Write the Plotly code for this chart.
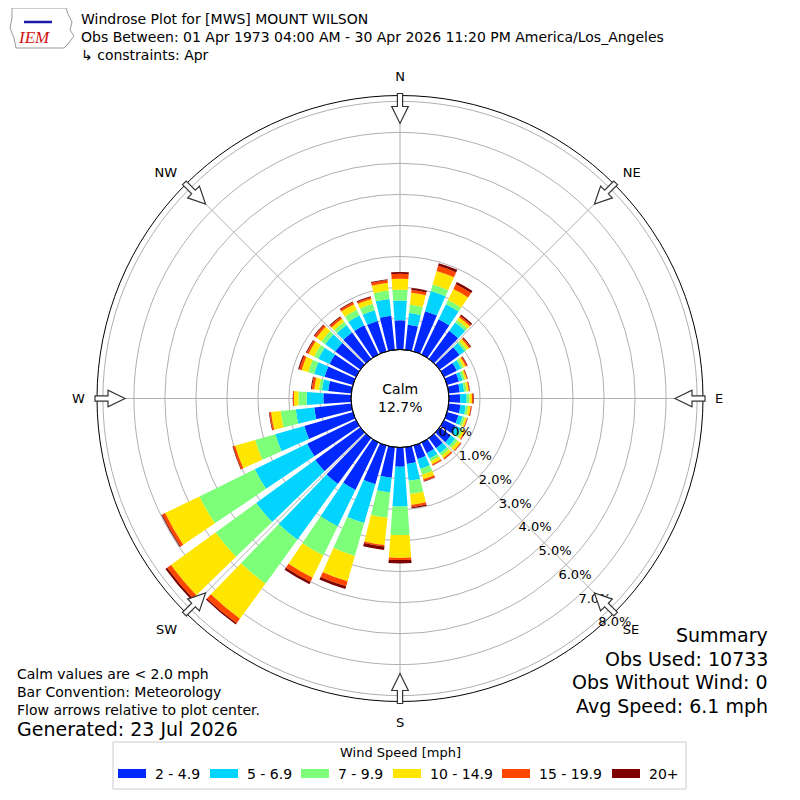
import math
import plotly.graph_objects as go

# wind direction bins (degrees, meteorological convention)
directions = list(range(0, 360, 10))
compass_ticks = [0, 45, 90, 135, 180, 225, 270, 315]
compass_labels = ["N", "NE", "E", "SE", "S", "SW", "W", "NW"]

speed_bins = ["2 - 4.9", "5 - 6.9", "7 - 9.9", "10 - 14.9", "15 - 19.9", "20+"]
bin_colors = ["#0028ff", "#00d4ff", "#7dff7a", "#ffe600", "#ff4700", "#7f0000"]

# percent of observations per direction bin, one list per speed bin
pct_2_5 = [0.94, 0.81, 1.35, 1.26, 1.12, 0.80, 0.46, 0.40, 0.36, 0.36, 0.38, 0.38,
           0.42, 0.45, 0.40, 0.38, 0.45, 0.54, 0.62, 0.99, 1.30, 1.70, 1.83, 1.80,
           1.75, 1.63, 1.20, 0.89, 0.75, 0.95, 0.95, 1.00, 1.05, 1.05, 1.02, 1.10]
pct_5_7 = [0.64, 0.38, 0.68, 0.54, 0.33, 0.20, 0.16, 0.12, 0.14, 0.21, 0.17, 0.14,
           0.18, 0.17, 0.20, 0.20, 0.33, 0.55, 1.28, 0.48, 1.30, 1.30, 2.22, 2.35,
           1.88, 0.97, 0.60, 0.54, 0.20, 0.35, 0.40, 0.40, 0.30, 0.35, 0.36, 0.55]
pct_7_10 = [0.35, 0.27, 0.21, 0.15, 0.10, 0.08, 0.08, 0.08, 0.08, 0.09, 0.08, 0.08,
            0.08, 0.10, 0.10, 0.10, 0.20, 0.43, 0.92, 0.82, 1.10, 1.05, 1.75, 1.62,
            1.99, 0.68, 0.49, 0.27, 0.10, 0.20, 0.15, 0.15, 0.13, 0.20, 0.22, 0.27]
pct_10_15 = [0.35, 0.39, 0.46, 0.40, 0.11, 0.10, 0.08, 0.06, 0.07, 0.08, 0.08, 0.07,
             0.08, 0.11, 0.10, 0.10, 0.15, 0.35, 0.74, 0.88, 0.85, 0.80, 1.40, 1.78,
             1.23, 0.67, 0.31, 0.14, 0.15, 0.22, 0.20, 0.20, 0.12, 0.20, 0.16, 0.25]
pct_15_20 = [0.16, 0.09, 0.17, 0.17, 0.06, 0.05, 0.05, 0.03, 0.03, 0.04, 0.03, 0.02,
             0.03, 0.03, 0.04, 0.04, 0.06, 0.07, 0.07, 0.05, 0.17, 0.15, 0.18, 0.15,
             0.10, 0.07, 0.05, 0.03, 0.08, 0.08, 0.07, 0.08, 0.07, 0.07, 0.06, 0.09]
pct_20_up = [0.06, 0.06, 0.09, 0.08, 0.05, 0.03, 0.02, 0.01, 0.01, 0.02, 0.01, 0.01,
             0.01, 0.01, 0.01, 0.01, 0.02, 0.04, 0.11, 0.11, 0.09, 0.08, 0.05, 0.07,
             0.03, 0.02, 0.02, 0.01, 0.03, 0.04, 0.03, 0.03, 0.03, 0.03, 0.03, 0.03]

radial_ticks = [0, 1, 2, 3, 4, 5, 6, 7, 8]
calm_pct = 12.7

title_lines = [
    "Windrose Plot for [MWS] MOUNT WILSON",
    "Obs Between: 01 Apr 1973 04:00 AM - 30 Apr 2026 11:20 PM America/Los_Angeles",
    "\u21b3 constraints: Apr",
]
notes = ["Calm values are < 2.0 mph", "Bar Convention: Meteorology",
         "Flow arrows relative to plot center."]
summary = ["Summary", "Obs Used: 10733", "Obs Without Wind: 0", "Avg Speed: 6.1 mph"]

W = H = 800
OFF = 8  # page body margin, the figure lands 8px right/down
CX, CY, R_OUT, R_HOLE = 400, 398.5, 303, 49
FONT = "DejaVu Sans"


def px(x, y):
    """screen pixel -> paper coords"""
    return (x - OFF) / W, 1 - (y - OFF) / H


fig = go.Figure()
series = [pct_2_5, pct_5_7, pct_7_10, pct_10_15, pct_15_20, pct_20_up]
for name, color, vals in zip(speed_bins, bin_colors, series):
    fig.add_trace(go.Barpolar(r=vals, theta=directions, width=8, name=name,
                              marker=dict(color=color, line=dict(width=0)),
                              showlegend=False))

dx0, dy0 = px(CX - R_OUT, CY + R_OUT)
dx1, dy1 = px(CX + R_OUT, CY - R_OUT)
fig.update_layout(
    width=W, height=H,
    margin=dict(l=0, r=0, t=0, b=0),
    paper_bgcolor="white",
    font=dict(family=FONT, color="black"),
    polar=dict(
        domain=dict(x=[dx0, dx1], y=[dy0, dy1]),
        hole=R_HOLE / R_OUT,
        bgcolor="white",
        barmode="stack",
        radialaxis=dict(range=[0, 8.19], tickvals=radial_ticks,
                        ticktext=[f"{v:.1f}%" for v in radial_ticks],
                        angle=-50, tickangle=-50, side="counterclockwise",
                        showline=False, ticks="", gridcolor="#b0b0b0",
                        gridwidth=1, tickfont=dict(size=13), layer="above traces"),
        angularaxis=dict(rotation=90, direction="clockwise",
                         tickvals=compass_ticks, ticktext=compass_labels,
                         ticks="outside", ticklen=9, tickcolor="rgba(0,0,0,0)",
                         gridcolor="#b0b0b0", linecolor="black", linewidth=1,
                         tickfont=dict(size=13), layer="above traces"),
    ),
)

shapes = []
# calm circle outline
x0, y0 = px(CX - R_HOLE, CY + R_HOLE)
x1, y1 = px(CX + R_HOLE, CY - R_HOLE)
shapes.append(dict(type="circle", xref="paper", yref="paper", x0=x0, y0=y0,
                   x1=x1, y1=y1, line=dict(color="black", width=1)))

# inward flow arrows on the rim
for b in compass_ticks:
    a = math.radians(b)
    ux, uy = -math.sin(a), math.cos(a)      # inward direction (screen coords)
    vx, vy = math.cos(a), math.sin(a)       # perpendicular
    tx, ty = CX + 305 * math.sin(a), CY - 305 * math.cos(a)
    local = [(0, -2.6), (13, -2.6), (13, -8.3), (30, 0), (13, 8.3), (13, 2.6), (0, 2.6)]
    pts = [px(tx + s * ux + t * vx, ty + s * uy + t * vy) for s, t in local]
    path = "M" + "L".join(f"{p[0]:.5f},{p[1]:.5f}" for p in pts) + "Z"
    shapes.append(dict(type="path", xref="paper", yref="paper", path=path,
                       fillcolor="white", line=dict(color="#333333", width=1.2)))

# crude IEM logo outline
logo = [(12, 8), (66, 8), (68, 14), (72, 22), (70, 30), (74, 36), (68, 44), (64, 48),
        (16, 48), (14, 38), (10, 28), (12, 18)]
pts = [px(x, y) for x, y in logo]
shapes.append(dict(type="path", xref="paper", yref="paper",
                   path="M" + "L".join(f"{p[0]:.5f},{p[1]:.5f}" for p in pts) + "Z",
                   line=dict(color="#999999", width=1)))
pts = [px(24, 22), px(52, 22)]
shapes.append(dict(type="line", xref="paper", yref="paper", x0=pts[0][0], y0=pts[0][1],
                   x1=pts[1][0], y1=pts[1][1], line=dict(color="#1a1aa8", width=2.5)))

# manual legend
lx0, ly0 = px(113, 789)
lx1, ly1 = px(686, 742)
shapes.append(dict(type="rect", xref="paper", yref="paper", x0=lx0, y0=ly0, x1=lx1, y1=ly1,
                   line=dict(color="#cccccc", width=1), fillcolor="white"))
legend_x = [118, 210, 301, 393, 502, 612]
annotations = []
for xpos, name, color in zip(legend_x, speed_bins, bin_colors):
    ax0, ay0 = px(xpos, 778)
    ax1, ay1 = px(xpos + 28, 769)
    shapes.append(dict(type="rect", xref="paper", yref="paper", x0=ax0, y0=ay0,
                       x1=ax1, y1=ay1, line=dict(width=0), fillcolor=color))
    tx, ty = px(xpos + 35, 774)
    annotations.append(dict(x=tx, y=ty, xref="paper", yref="paper", text=name,
                            showarrow=False, xanchor="left", yanchor="middle",
                            font=dict(size=14)))
tx, ty = px(400, 752)
annotations.append(dict(x=tx, y=ty, xref="paper", yref="paper", text="Wind Speed [mph]",
                        showarrow=False, xanchor="center", yanchor="middle",
                        font=dict(size=13)))

# calm label
tx, ty = px(CX, CY)
annotations.append(dict(x=tx, y=ty, xref="paper", yref="paper",
                        text=f"Calm<br>{calm_pct:.1f}%", showarrow=False,
                        font=dict(size=14)))

# header
for i, line in enumerate(title_lines):
    tx, ty = px(79, 19 + 18 * i)
    annotations.append(dict(x=tx, y=ty, xref="paper", yref="paper", text=line,
                            showarrow=False, xanchor="left", yanchor="middle",
                            font=dict(size=14)))
tx, ty = px(16, 38)
annotations.append(dict(x=tx, y=ty, xref="paper", yref="paper", text="<i>IEM</i>",
                        showarrow=False, xanchor="left", yanchor="middle",
                        font=dict(size=17, color="#d01010", family="Liberation Serif")))

# notes bottom left
for i, line in enumerate(notes):
    tx, ty = px(15, 674 + 18 * i)
    annotations.append(dict(x=tx, y=ty, xref="paper", yref="paper", text=line,
                            showarrow=False, xanchor="left", yanchor="middle",
                            font=dict(size=14)))
tx, ty = px(15, 729)
annotations.append(dict(x=tx, y=ty, xref="paper", yref="paper",
                        text="Generated: 23 Jul 2026", showarrow=False,
                        xanchor="left", yanchor="middle", font=dict(size=19)))

# summary bottom right
for i, line in enumerate(summary):
    tx, ty = px(770, 635 + 23.7 * i)
    annotations.append(dict(x=tx, y=ty, xref="paper", yref="paper", text=line,
                            showarrow=False, xanchor="right", yanchor="middle",
                            font=dict(size=19)))

fig.update_layout(shapes=shapes, annotations=annotations)
fig.write_html("out.html")
